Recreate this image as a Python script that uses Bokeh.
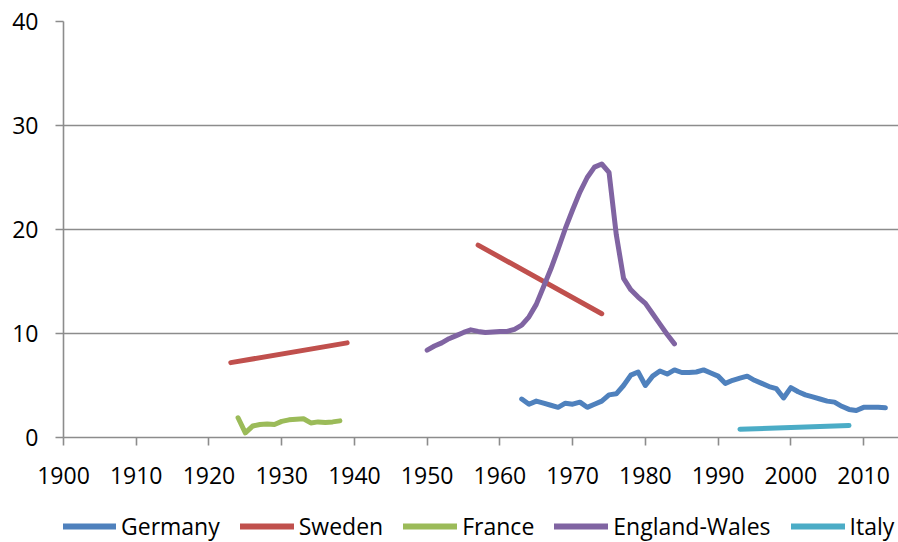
from bokeh.plotting import figure
from bokeh.layouts import column
from bokeh.models import Range1d, FixedTicker, Legend, LegendItem
from bokeh.embed import file_html
from bokeh.resources import INLINE

# ---- data ----
germany_years = list(range(1963, 2014))
germany_vals = [3.7, 3.2, 3.5, 3.3, 3.1, 2.9, 3.3, 3.2, 3.4, 2.9,
                3.2, 3.5, 4.1, 4.2, 5.0, 6.0, 6.3, 5.0, 5.9, 6.4,
                6.1, 6.5, 6.25, 6.25, 6.3, 6.5, 6.2, 5.9, 5.2, 5.5,
                5.7, 5.9, 5.5, 5.2, 4.9, 4.7, 3.8, 4.8, 4.4, 4.1,
                3.9, 3.7, 3.5, 3.4, 3.0, 2.7, 2.6, 2.9, 2.9, 2.9, 2.85]

sweden_years = [1923, 1939, 1957, 1974]
sweden_vals = [7.2, 9.1, 18.5, 11.9]
sweden_segments = [(0, 2), (2, 4)]

france_years = list(range(1924, 1939))
france_vals = [1.9, 0.45, 1.1, 1.25, 1.3, 1.25, 1.55, 1.7, 1.75, 1.8,
               1.4, 1.5, 1.45, 1.5, 1.6]

england_years = list(range(1950, 1985))
england_vals = [8.4, 8.8, 9.1, 9.5, 9.8, 10.1, 10.35, 10.2, 10.1, 10.15,
                10.2, 10.2, 10.4, 10.8, 11.6, 12.8, 14.5, 16.2, 18.1, 20.1,
                21.9, 23.6, 25.0, 26.0, 26.3, 25.5, 19.5, 15.3, 14.2, 13.5,
                12.9, 11.9, 10.9, 9.9, 9.0]

italy_years = [1993, 2008]
italy_vals = [0.8, 1.15]

series_names = ["Germany", "Sweden", "France", "England-Wales", "Italy"]
series_data = {
    "Germany": (germany_years, germany_vals),
    "Sweden": (sweden_years, sweden_vals),
    "France": (france_years, france_vals),
    "England-Wales": (england_years, england_vals),
    "Italy": (italy_years, italy_vals),
}
x_ticks = list(range(1900, 2011, 10))
y_ticks = [0, 10, 20, 30, 40]

colors = {"Germany": "#4F81BD", "Sweden": "#C0504D", "France": "#9BBB59",
          "England-Wales": "#8064A2", "Italy": "#4BACC6"}

FONT = "Open Sans"
FSIZE = "23px"
GRID = "#8C8C8C"
LW = 5

p = figure(width=898, height=505, output_backend="svg", toolbar_location=None,
           x_range=Range1d(1900, 2014.8), y_range=Range1d(0, 40),
           min_border_left=63, min_border_right=0, min_border_top=21,
           min_border_bottom=68)
p.outline_line_color = None
p.background_fill_color = "white"
p.border_fill_color = "white"

for ax in (p.xaxis[0], p.yaxis[0]):
    ax.axis_line_color = GRID
    ax.axis_line_width = 1.6
    ax.major_tick_line_color = GRID
    ax.major_tick_line_width = 1.6
    ax.major_tick_in = 0
    ax.major_tick_out = 8
    ax.minor_tick_line_color = None
    ax.major_label_text_font = FONT
    ax.major_label_text_font_size = FSIZE
    ax.major_label_text_color = "#000000"

p.xaxis[0].ticker = FixedTicker(ticks=x_ticks)
p.yaxis[0].ticker = FixedTicker(ticks=y_ticks)
p.xaxis[0].major_label_standoff = 21
p.yaxis[0].major_label_standoff = 17

p.xgrid.grid_line_color = None
p.ygrid.ticker = FixedTicker(ticks=[10, 20, 30, 40])
p.ygrid.grid_line_color = GRID
p.ygrid.grid_line_width = 1.6


def seg_line(fig, xs, ys, color, width=LW):
    return fig.line(xs, ys, line_color=color, line_width=width,
                    line_join="round", line_cap="round")

seg_line(p, germany_years, germany_vals, colors["Germany"])
for a, b in sweden_segments:
    seg_line(p, sweden_years[a:b], sweden_vals[a:b], colors["Sweden"])
seg_line(p, france_years, france_vals, colors["France"])
seg_line(p, england_years, england_vals, colors["England-Wales"])
seg_line(p, italy_years, italy_vals, colors["Italy"])

# ---- legend strip below the chart ----
# (its own lines use the same series, but the strip's ranges keep them out of view)
lg = figure(width=898, height=37, output_backend="svg", toolbar_location=None,
            x_range=Range1d(0, 1), y_range=Range1d(0, 1),
            x_axis_location=None, y_axis_location=None,
            min_border_left=0, min_border_right=0, min_border_top=0,
            min_border_bottom=0)
lg.outline_line_color = None
lg.grid.visible = False
lg.border_fill_color = "white"
lg.background_fill_color = "white"

items = []
for name in series_names:
    xs, ys = series_data[name]
    r = lg.line(xs, ys, line_color=colors[name], line_width=LW + 1,
                line_cap="round")
    items.append(LegendItem(label=name, renderers=[r]))

legend = Legend(items=items, orientation="horizontal", location=(-1, 0))
legend.label_text_font = FONT
legend.label_text_font_size = FSIZE
legend.label_text_color = "#000000"
legend.label_text_baseline = "middle"
legend.glyph_width = 54
legend.label_standoff = 5
legend.spacing = 20
legend.border_line_color = None
legend.background_fill_alpha = 0
legend.padding = 0
legend.margin = 0
legend.label_height = 20
legend.glyph_height = 20
lg.add_layout(legend, "center")

layout = column(p, lg, spacing=0)
open("out.html", "w").write(file_html(layout, INLINE))
